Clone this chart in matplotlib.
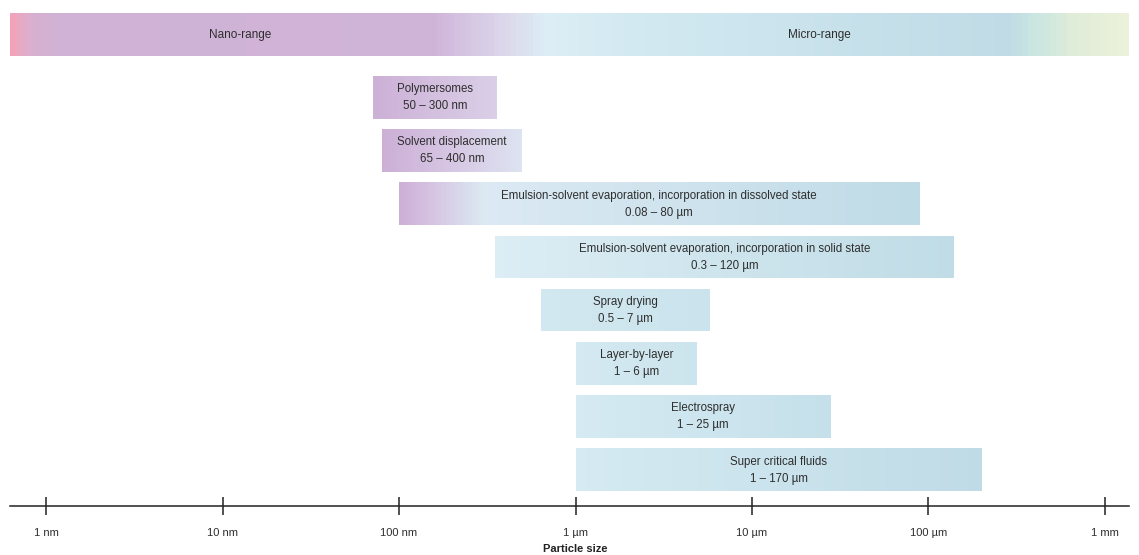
import numpy as np
import matplotlib
matplotlib.use("Agg")
import matplotlib.pyplot as plt
from matplotlib.colors import LinearSegmentedColormap

plt.rcParams['font.family'] = ['Liberation Sans', 'DejaVu Sans']

# data (sizes in micrometres)
methods = ["Polymersomes", "Solvent displacement",
           "Emulsion-solvent evaporation, incorporation in dissolved state",
           "Emulsion-solvent evaporation, incorporation in solid state",
           "Spray drying", "Layer-by-layer", "Electrospray", "Super critical fluids"]
range_labels = ["50 \u2013 300 nm", "65 \u2013 400 nm", "0.08 \u2013 80 \u00b5m",
                "0.3 \u2013 120 \u00b5m", "0.5 \u2013 7 \u00b5m", "1 \u2013 6 \u00b5m",
                "1 \u2013 25 \u00b5m", "1 \u2013 170 \u00b5m"]
bar_start = [0.071, 0.080, 0.100, 0.350, 0.64, 1.0, 1.0, 1.0]
bar_end = [0.36, 0.50, 89.0, 139.0, 5.8, 4.9, 28.0, 200.0]

tick_vals = [1e-3, 1e-2, 1e-1, 1, 10, 100, 1000]
tick_labels = ["1 nm", "10 nm", "100 nm", "1 \u00b5m", "10 \u00b5m", "100 \u00b5m", "1 mm"]

x_lo, x_hi = 10 ** -3.204, 10 ** 3.136

# gradient of the top band (fraction along band, colour)
band_stops = [(0.0, "#f0a3ba"), (0.013, "#d9b0cf"), (0.043, "#cfb2d5"),
              (0.376, "#d0b4d8"), (0.412, "#d6c6e3"), (0.447, "#dcdaec"),
              (0.479, "#dcedf5"), (0.553, "#d3e9f1"), (0.742, "#c7e1eb"),
              (0.898, "#c1dbe6"), (0.919, "#c9e6e2"), (0.955, "#dfecd8"),
              (1.0, "#ebf1da")]

# gradient of each bar, left to right
bar_stops = [
    [(0, "#ccb0d6"), (1, "#dacfe7")],
    [(0, "#ccafd6"), (0.5, "#d6c6e3"), (1, "#dde3f1")],
    [(0, "#ceafd7"), (0.05, "#d5c0e0"), (0.16, "#dbe9f3"), (1, "#bfdbe6")],
    [(0, "#dcedf4"), (1, "#c0dce6")],
    [(0, "#d2e8f0"), (1, "#cae3ec")],
    [(0, "#d4e9f1"), (1, "#cce4ed")],
    [(0, "#d5eaf2"), (1, "#c5e0ea")],
    [(0, "#d5eaf2"), (1, "#bfdbe6")],
]


def gradient_box(ax, x0, x1, y0, y1, stops):
    cmap = LinearSegmentedColormap.from_list("g", stops)
    xe = np.logspace(np.log10(x0), np.log10(x1), 200)
    frac = np.linspace(0, 1, len(xe) - 1)
    ax.pcolormesh(xe, [y0, y1], frac[None, :], cmap=cmap, vmin=0, vmax=1,
                  shading="flat", edgecolors="none", antialiased=False)


fig = plt.figure(figsize=(11.39, 5.55), dpi=100)
ax = fig.add_axes([10 / 1139, 0, 1119 / 1139, 1])
ax.set_xscale("log")
ax.set_xlim(x_lo, x_hi)
ax.set_ylim(555, 0)

txt = "#2e2e2e"

# top band
gradient_box(ax, x_lo, x_hi, 13, 56, band_stops)
ax.text(0.0126, 35, "Nano-range", ha="center", va="center", fontsize=8.5, color=txt,
        family=["Liberation Sans Narrow", "Liberation Sans"])
ax.text(24, 35, "Micro-range", ha="center", va="center", fontsize=8.5, color=txt,
        family=["Liberation Sans Narrow", "Liberation Sans"])

# method bars
row_top, row_step, row_h = 76, 53.2, 42.5
for i, (name, rng, s, e) in enumerate(zip(methods, range_labels, bar_start, bar_end)):
    y0 = row_top + i * row_step
    gradient_box(ax, s, e, y0, y0 + row_h, bar_stops[i])
    xc = np.sqrt(s * e)
    yc = y0 + row_h / 2
    ax.text(xc, yc - 8, name, ha="center", va="center", fontsize=8.3, color=txt)
    ax.text(xc, yc + 9, rng, ha="center", va="center", fontsize=8.3, color=txt)

# size axis
for side in ["top", "left", "right"]:
    ax.spines[side].set_visible(False)
ax.spines["bottom"].set_position(("data", 506))
ax.spines["bottom"].set_color("#222222")
ax.spines["bottom"].set_linewidth(1.1)
ax.set_xticks(tick_vals, tick_labels)
ax.xaxis.set_minor_locator(matplotlib.ticker.NullLocator())
ax.tick_params(axis="x", direction="inout", length=13, width=1.1, color="#222222",
               labelsize=8, labelcolor=txt, pad=9)
ax.set_yticks([])
ax.text(1, 549, "Particle size", ha="center", va="center", fontsize=8,
        fontweight="bold", color="#222222")

fig.savefig("out.png", dpi=100)
